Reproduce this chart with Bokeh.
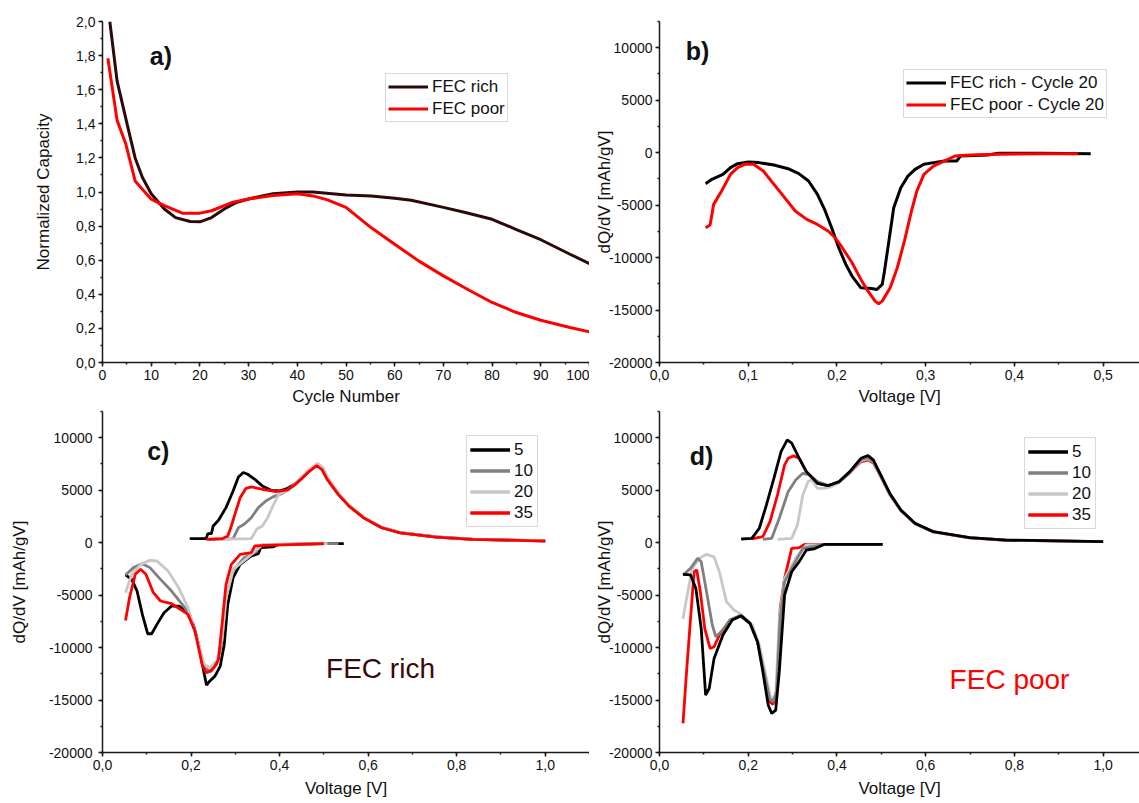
from bokeh.plotting import figure
from bokeh.layouts import column, row
from bokeh.models import (Range1d, SingleIntervalTicker, CustomJSTickFormatter,
                          Label, Legend, LegendItem)
from bokeh.embed import file_html
from bokeh.resources import INLINE

FONT = "Liberation Sans"
RICH = "#2b0a0a"
RED = "#ff0000"
GRAY = "#7f7f7f"
LGRAY = "#c8c8c8"
BLACK = "#000000"

# ---------------- panel a: normalized capacity ----------------
a_cycle_rich = [1.5, 3, 5.2, 6.7, 8.2, 10, 12.7, 15, 18, 20, 22.4, 25, 27.6, 30.2, 32.8, 35,
                40, 43.2, 50, 55.2, 60, 63.4, 70, 74.5, 80, 85, 90, 96, 100]
a_cap_rich = [2.0, 1.65, 1.38, 1.20, 1.085, 0.99, 0.90, 0.85, 0.827, 0.825, 0.85, 0.90, 0.94,
              0.96, 0.977, 0.99, 1.0, 1.0, 0.983, 0.977, 0.964, 0.952, 0.91, 0.88, 0.84, 0.78,
              0.72, 0.635, 0.58]
a_cycle_poor = [1.1, 3, 4.8, 6.7, 10, 12.7, 16.4, 20, 22.4, 26.8, 30.2, 35, 40, 43.2, 46.2, 50,
                55.2, 60, 64.9, 70, 75.3, 80, 85, 90, 96, 100]
a_cap_poor = [1.785, 1.42, 1.28, 1.065, 0.958, 0.92, 0.876, 0.876, 0.89, 0.94, 0.96, 0.98, 0.99,
              0.977, 0.954, 0.91, 0.79, 0.694, 0.596, 0.508, 0.424, 0.352, 0.293, 0.248, 0.205,
              0.18]

# ---------------- panel b: dQ/dV cycle 20 ----------------
b_rich_V = [0.052, 0.059, 0.0715, 0.08, 0.088, 0.1, 0.112, 0.129, 0.145, 0.157, 0.168, 0.178,
            0.186, 0.194, 0.202, 0.21, 0.217, 0.227, 0.239, 0.245, 0.251, 0.253, 0.258, 0.264,
            0.272, 0.28, 0.288, 0.298, 0.309, 0.321, 0.335, 0.339, 0.37, 0.382, 0.431, 0.486]
b_rich_Q = [-2960, -2540, -2070, -1430, -1050, -890, -950, -1180, -1530, -2000, -2700, -3970,
            -5400, -7150, -9060, -10650, -11760, -12880, -12940, -13040, -12560, -11600, -8740,
            -5250, -3340, -2230, -1590, -1110, -950, -800, -800, -320, -220, -60, -60, -100]
b_poor_V = [0.052, 0.057, 0.061, 0.07, 0.08, 0.088, 0.096, 0.106, 0.117, 0.129, 0.141, 0.153,
            0.166, 0.178, 0.19, 0.198, 0.206, 0.217, 0.227, 0.235, 0.243, 0.247, 0.251, 0.26,
            0.268, 0.276, 0.284, 0.29, 0.298, 0.309, 0.321, 0.333, 0.35, 0.382, 0.431, 0.472]
b_poor_Q = [-7150, -6900, -4930, -3660, -2070, -1430, -1110, -1110, -1750, -3020, -4290, -5560,
            -6360, -6840, -7470, -8110, -9060, -10490, -12080, -13200, -14150, -14400, -14150,
            -12880, -10970, -8430, -5560, -3660, -2070, -1270, -800, -320, -220, -160, -100, -100]

# ---------------- panel c: FEC rich, cycles 5/10/20/35 ----------------
c5_chg_V = [0.197, 0.234, 0.238, 0.246, 0.25, 0.262, 0.279, 0.295, 0.307, 0.318, 0.328, 0.344,
            0.361, 0.381, 0.402, 0.418, 0.434, 0.451, 0.467, 0.484, 0.496, 0.508, 0.533, 0.557,
            0.59, 0.631, 0.672, 0.754, 0.836, 1.0]
c5_chg_Q = [380, 380, 860, 860, 1590, 2130, 3340, 4930, 6260, 6680, 6520, 6040, 5410, 4990, 4930,
            5180, 5560, 6200, 6840, 7410, 7000, 6040, 4610, 3500, 2380, 1430, 950, 540, 320, 160]
c10_chg_V = [0.24, 0.295, 0.307, 0.32, 0.336, 0.352, 0.369, 0.385, 0.402, 0.418, 0.434, 0.451,
             0.467, 0.484, 0.496, 0.508, 0.533, 0.557, 0.59, 0.631, 0.672, 0.754, 0.836, 1.0]
c10_chg_Q = [300, 380, 1430, 1750, 2380, 3340, 3970, 4360, 4610, 4990, 5500, 6200, 6900, 7450,
             7050, 6050, 4650, 3520, 2400, 1450, 960, 550, 330, 170]
c20_chg_V = [0.26, 0.336, 0.348, 0.361, 0.373, 0.385, 0.398, 0.418, 0.434, 0.451, 0.467, 0.486,
             0.498, 0.51, 0.533, 0.557, 0.59, 0.631, 0.672, 0.754, 0.836, 1.0]
c20_chg_Q = [300, 380, 1270, 1590, 2380, 3500, 4610, 4990, 5560, 6300, 7000, 7550, 7150, 6150,
             4700, 3550, 2420, 1460, 970, 560, 330, 170]
c35_chg_V = [0.234, 0.27, 0.283, 0.291, 0.299, 0.311, 0.324, 0.336, 0.361, 0.393, 0.418, 0.434,
             0.451, 0.467, 0.484, 0.496, 0.508, 0.533, 0.557, 0.59, 0.631, 0.672, 0.754, 0.836, 1.0]
c35_chg_Q = [320, 380, 640, 1590, 2700, 4290, 5180, 5310, 5090, 4860, 5020, 5500, 6150, 6800,
             7350, 6950, 6000, 4580, 3480, 2360, 1420, 940, 530, 310, 150]

c5_dis_V = [0.052, 0.066, 0.078, 0.09, 0.102, 0.111, 0.123, 0.139, 0.156, 0.172, 0.189, 0.205,
            0.217, 0.23, 0.235, 0.242, 0.254, 0.266, 0.275, 0.283, 0.295, 0.311, 0.336, 0.352,
            0.357, 0.385, 0.398, 0.508, 0.545]
c5_dis_Q = [-3080, -3500, -4610, -6840, -8680, -8680, -7790, -6680, -6040, -6040, -6520, -7790,
            -9700, -12560, -13580, -13200, -12720, -11760, -9700, -5880, -3340, -2070, -1270,
            -1050, -480, -410, -160, -100, -100]
c10_dis_V = [0.052, 0.07, 0.09, 0.107, 0.131, 0.156, 0.18, 0.197, 0.217, 0.23, 0.242, 0.258,
             0.27, 0.279, 0.295, 0.32, 0.344, 0.361, 0.508, 0.533]
c10_dis_Q = [-3080, -2380, -2000, -2380, -3500, -4610, -5880, -6840, -9700, -11920, -12240,
             -11600, -9380, -5250, -2700, -1430, -950, -220, -100, -100]
c20_dis_V = [0.052, 0.066, 0.086, 0.107, 0.123, 0.148, 0.172, 0.193, 0.213, 0.23, 0.242, 0.258,
             0.27, 0.279, 0.295, 0.328, 0.344, 0.361, 0.508]
c20_dis_Q = [-4770, -3020, -2070, -1690, -1750, -2700, -4290, -6200, -9060, -11600, -11920,
             -11290, -9060, -5250, -2540, -1430, -800, -160, -100]
c35_dis_V = [0.052, 0.061, 0.074, 0.086, 0.098, 0.115, 0.131, 0.156, 0.176, 0.193, 0.209, 0.225,
             0.234, 0.245, 0.254, 0.262, 0.27, 0.279, 0.291, 0.311, 0.336, 0.344, 0.369, 0.5]
c35_dis_Q = [-7410, -5250, -3020, -2540, -3020, -4770, -5560, -5820, -6360, -6840, -8430, -11600,
             -12400, -12240, -11760, -11130, -7790, -3970, -2070, -1110, -950, -320, -250, -100]

# ---------------- panel d: FEC poor, cycles 5/10/20/35 ----------------
d5_chg_V = [0.184, 0.208, 0.225, 0.241, 0.258, 0.274, 0.288, 0.298, 0.315, 0.331, 0.356, 0.38,
            0.405, 0.429, 0.454, 0.47, 0.482, 0.495, 0.519, 0.544, 0.576, 0.617, 0.699, 0.781, 1.0]
d5_chg_Q = [350, 410, 1370, 3590, 6140, 8680, 9790, 9480, 8040, 6770, 5660, 5440, 5820, 6770,
            8040, 8300, 7890, 6770, 4710, 3120, 1840, 1050, 480, 250, 100]
d10_chg_V = [0.233, 0.253, 0.27, 0.29, 0.307, 0.323, 0.339, 0.356, 0.38, 0.405, 0.429, 0.454,
             0.47, 0.482, 0.495, 0.519, 0.544, 0.576, 0.617, 0.699, 0.781, 1.0]
d10_chg_Q = [320, 410, 2320, 4860, 5980, 6610, 6450, 5820, 5440, 5800, 6700, 7900, 8100, 7750,
             6700, 4650, 3080, 1820, 1040, 470, 240, 100]
d20_chg_V = [0.266, 0.298, 0.311, 0.323, 0.335, 0.343, 0.356, 0.372, 0.388, 0.405, 0.429, 0.454,
             0.47, 0.482, 0.495, 0.519, 0.544, 0.576, 0.617, 0.699, 0.781, 1.0]
d20_chg_Q = [320, 410, 1690, 4550, 5820, 5980, 5180, 5180, 5340, 5750, 6650, 7800, 8000, 7700,
             6650, 4620, 3060, 1800, 1030, 470, 240, 100]
d35_chg_V = [0.208, 0.233, 0.249, 0.266, 0.282, 0.29, 0.302, 0.315, 0.331, 0.356, 0.38, 0.405,
             0.429, 0.454, 0.47, 0.482, 0.495, 0.519, 0.544, 0.576, 0.617, 0.699, 0.781, 1.0]
d35_chg_Q = [350, 570, 2000, 4550, 7410, 8040, 8270, 8040, 6770, 5660, 5400, 5750, 6650, 7700,
             7890, 7600, 6600, 4600, 3050, 1800, 1020, 460, 230, 90]

d5_dis_V = [0.053, 0.07, 0.082, 0.094, 0.104, 0.112, 0.123, 0.143, 0.164, 0.184, 0.204, 0.221,
            0.233, 0.245, 0.253, 0.262, 0.27, 0.282, 0.298, 0.315, 0.331, 0.348, 0.372, 0.503]
d5_dis_Q = [-3020, -3080, -4360, -8170, -14530, -13900, -11030, -8810, -7380, -6960, -7690,
            -9440, -12300, -15480, -16280, -15960, -12300, -4990, -2770, -1810, -700, -600, -160,
            -160]
d10_dis_V = [0.053, 0.07, 0.086, 0.094, 0.106, 0.119, 0.127, 0.139, 0.159, 0.18, 0.204, 0.221,
             0.237, 0.248, 0.256, 0.264, 0.272, 0.282, 0.298, 0.323, 0.372, 0.503]
d10_dis_Q = [-3080, -2450, -1490, -1810, -4670, -7850, -8970, -8490, -7380, -6960, -7690, -9440,
             -12620, -14850, -15170, -14210, -7220, -3720, -2450, -540, -160, -160]
d20_dis_V = [0.053, 0.061, 0.074, 0.09, 0.106, 0.123, 0.135, 0.151, 0.168, 0.184, 0.209, 0.225,
             0.241, 0.252, 0.262, 0.27, 0.282, 0.307, 0.331, 0.503]
d20_dis_Q = [-7280, -5310, -2450, -1490, -1110, -1340, -2770, -5630, -6420, -6840, -7850, -9760,
             -12940, -15010, -14530, -7220, -3400, -1490, -220, -160]
d35_dis_V = [0.053, 0.061, 0.07, 0.078, 0.084, 0.092, 0.102, 0.114, 0.123, 0.135, 0.159, 0.184,
             0.204, 0.221, 0.237, 0.249, 0.256, 0.264, 0.272, 0.282, 0.298, 0.315, 0.327, 0.47]
d35_dis_Q = [-17230, -12300, -7220, -2770, -2610, -4670, -8170, -10080, -9920, -8810, -7380,
             -6960, -7690, -9440, -12620, -15170, -15420, -14050, -6260, -3400, -540, -480, -160,
             -160]

cycle_labels = ["5", "10", "20", "35"]
cycle_colors = [BLACK, GRAY, LGRAY, RED]

DEC1 = CustomJSTickFormatter(code="return tick.toFixed(1).replace('.', ',');")
INT0 = CustomJSTickFormatter(code="return tick.toFixed(0);")


def make_fig(width, height, left, top, bottom, xr, yr):
    p = figure(width=width, height=height, output_backend="svg", toolbar_location=None,
               x_range=Range1d(*xr), y_range=Range1d(*yr),
               min_border_left=left, min_border_right=0, min_border_top=top,
               min_border_bottom=bottom)
    p.outline_line_color = None
    p.xgrid.visible = False
    p.ygrid.visible = False
    p.background_fill_color = "white"
    p.border_fill_color = "white"
    for ax in (p.xaxis[0], p.yaxis[0]):
        ax.axis_line_color = "#1a1a1a"
        ax.axis_line_width = 1.5
        ax.major_tick_line_color = "#1a1a1a"
        ax.major_tick_line_width = 1.5
        ax.minor_tick_line_color = "#1a1a1a"
        ax.minor_tick_line_width = 1.5
        ax.major_tick_in = 0
        ax.major_tick_out = 4
        ax.minor_tick_in = 0
        ax.minor_tick_out = 2
        ax.major_label_text_font = FONT
        ax.major_label_text_font_size = "14px"
        ax.major_label_text_color = "#111111"
        ax.axis_label_text_font = FONT
        ax.axis_label_text_font_size = "17px"
        ax.axis_label_text_font_style = "normal"
        ax.axis_label_text_color = "#111111"
    return p


def style_legend(leg, loc, n):
    leg.location = loc
    leg.border_line_color = "#b4b4b4"
    leg.border_line_width = 1.5
    leg.background_fill_color = "white"
    leg.background_fill_alpha = 1.0
    leg.label_text_font = FONT
    leg.label_text_font_size = "17px"
    leg.label_text_color = "#111111"
    leg.glyph_width = 40
    leg.glyph_height = 21
    leg.label_height = 21
    leg.label_standoff = 4
    leg.spacing = 1 if n == 2 else 0
    leg.padding = 2 if n == 2 else 3
    leg.margin = 0


def panel_label(p, x, y, text):
    p.add_layout(Label(x=x, y=y, text=text, text_font=FONT, text_font_style="bold",
                       text_font_size="25px", text_align="center", text_baseline="middle",
                       text_color="#111111"))


# ---------- a ----------
pa = make_fig(589, 410, 102, 21, 48, (0, 100), (0, 2.0))
pa.xaxis.ticker = SingleIntervalTicker(interval=10, num_minor_ticks=2)
pa.yaxis.ticker = SingleIntervalTicker(interval=0.2, num_minor_ticks=2)
pa.xaxis.formatter = INT0
pa.yaxis.formatter = DEC1
pa.xaxis.axis_label = "Cycle Number"
pa.yaxis.axis_label = "Normalized Capacity"
pa.xaxis.major_label_standoff = 3
pa.xaxis.axis_label_standoff = 4
pa.yaxis.major_label_standoff = 3
pa.yaxis.axis_label_standoff = 20
ra = pa.line(a_cycle_rich, a_cap_rich, line_color=RICH, line_width=3)
rb = pa.line(a_cycle_poor, a_cap_poor, line_color=RED, line_width=3)
leg_a = Legend(items=[LegendItem(label="FEC rich", renderers=[ra]),
                      LegendItem(label="FEC poor", renderers=[rb])])
style_legend(leg_a, (283, 240), 2)
pa.add_layout(leg_a)
panel_label(pa, 12, 1.80, "a)")

# ---------- b ----------
pb = make_fig(550, 410, 70, 21, 48, (0, 0.541), (-20000, 12500))
pb.xaxis.ticker = SingleIntervalTicker(interval=0.1, num_minor_ticks=2)
pb.yaxis.ticker = SingleIntervalTicker(interval=5000, num_minor_ticks=2)
pb.xaxis.formatter = DEC1
pb.yaxis.formatter = INT0
pb.xaxis.axis_label = "Voltage [V]"
pb.yaxis.axis_label = "dQ/dV [mAh/gV]"
pb.xaxis.major_label_standoff = 3
pb.xaxis.axis_label_standoff = 4
pb.yaxis.major_label_standoff = 3
pb.yaxis.axis_label_standoff = -8
r1 = pb.line(b_rich_V, b_rich_Q, line_color=BLACK, line_width=3)
r2 = pb.line(b_poor_V, b_poor_Q, line_color=RED, line_width=3)
leg_b = Legend(items=[LegendItem(label="FEC rich - Cycle 20", renderers=[r1]),
                      LegendItem(label="FEC poor - Cycle 20", renderers=[r2])])
style_legend(leg_b, (244, 244), 2)
pb.add_layout(leg_b)
panel_label(pb, 0.043, 9700, "b)")

# ---------- c ----------
pc = make_fig(589, 393, 102, 1, 51, (0, 1.1), (-20000, 12500))
pc.xaxis.ticker = SingleIntervalTicker(interval=0.2, num_minor_ticks=2)
pc.yaxis.ticker = SingleIntervalTicker(interval=5000, num_minor_ticks=2)
pc.xaxis.formatter = DEC1
pc.yaxis.formatter = INT0
pc.xaxis.axis_label = "Voltage [V]"
pc.yaxis.axis_label = "dQ/dV [mAh/gV]"
pc.xaxis.major_label_standoff = 3
pc.xaxis.axis_label_standoff = 6
pc.yaxis.major_label_standoff = 6
pc.yaxis.axis_label_standoff = 17
c_chg = [(c5_chg_V, c5_chg_Q), (c10_chg_V, c10_chg_Q), (c20_chg_V, c20_chg_Q), (c35_chg_V, c35_chg_Q)]
c_dis = [(c5_dis_V, c5_dis_Q), (c10_dis_V, c10_dis_Q), (c20_dis_V, c20_dis_Q), (c35_dis_V, c35_dis_Q)]
c_items = []
for (cv, cq), (dv, dq), lab, col in zip(c_chg, c_dis, cycle_labels, cycle_colors):
    g1 = pc.line(cv, cq, line_color=col, line_width=2.8)
    g2 = pc.line(dv, dq, line_color=col, line_width=2.8)
    c_items.append(LegendItem(label=lab, renderers=[g1, g2]))
leg_c = Legend(items=c_items)
style_legend(leg_c, (364, 225), 4)
pc.add_layout(leg_c)
panel_label(pc, 0.126, 8760, "c)")
pc.add_layout(Label(x=0.628, y=-12000, text="FEC rich", text_font=FONT, text_font_size="28px",
                    text_align="center", text_baseline="middle", text_color="#3a0a0a"))

# ---------- d ----------
pd_ = make_fig(550, 393, 70, 1, 51, (0, 1.082), (-20000, 12500))
pd_.xaxis.ticker = SingleIntervalTicker(interval=0.2, num_minor_ticks=2)
pd_.yaxis.ticker = SingleIntervalTicker(interval=5000, num_minor_ticks=2)
pd_.xaxis.formatter = DEC1
pd_.yaxis.formatter = INT0
pd_.xaxis.axis_label = "Voltage [V]"
pd_.yaxis.axis_label = "dQ/dV [mAh/gV]"
pd_.xaxis.major_label_standoff = 3
pd_.xaxis.axis_label_standoff = 6
pd_.yaxis.major_label_standoff = 3
pd_.yaxis.axis_label_standoff = -8
d_chg = [(d5_chg_V, d5_chg_Q), (d10_chg_V, d10_chg_Q), (d20_chg_V, d20_chg_Q), (d35_chg_V, d35_chg_Q)]
d_dis = [(d5_dis_V, d5_dis_Q), (d10_dis_V, d10_dis_Q), (d20_dis_V, d20_dis_Q), (d35_dis_V, d35_dis_Q)]
d_rends = {}
for idx in [3, 2, 1, 0]:
    (cv, cq), (dv, dq) = d_chg[idx], d_dis[idx]
    g1 = pd_.line(cv, cq, line_color=cycle_colors[idx], line_width=2.8)
    g2 = pd_.line(dv, dq, line_color=cycle_colors[idx], line_width=2.8)
    d_rends[idx] = [g1, g2]
leg_d = Legend(items=[LegendItem(label=cycle_labels[i], renderers=d_rends[i]) for i in range(4)])
style_legend(leg_d, (365, 223), 4)
pd_.add_layout(leg_d)
panel_label(pd_, 0.095, 8280, "d)")
pd_.add_layout(Label(x=0.789, y=-13050, text="FEC poor", text_font=FONT, text_font_size="28px",
                     text_align="center", text_baseline="middle", text_color=RED))

layout = column(row(pa, pb, spacing=0), row(pc, pd_, spacing=0), spacing=0)
open("out.html", "w").write(file_html(layout, INLINE))
